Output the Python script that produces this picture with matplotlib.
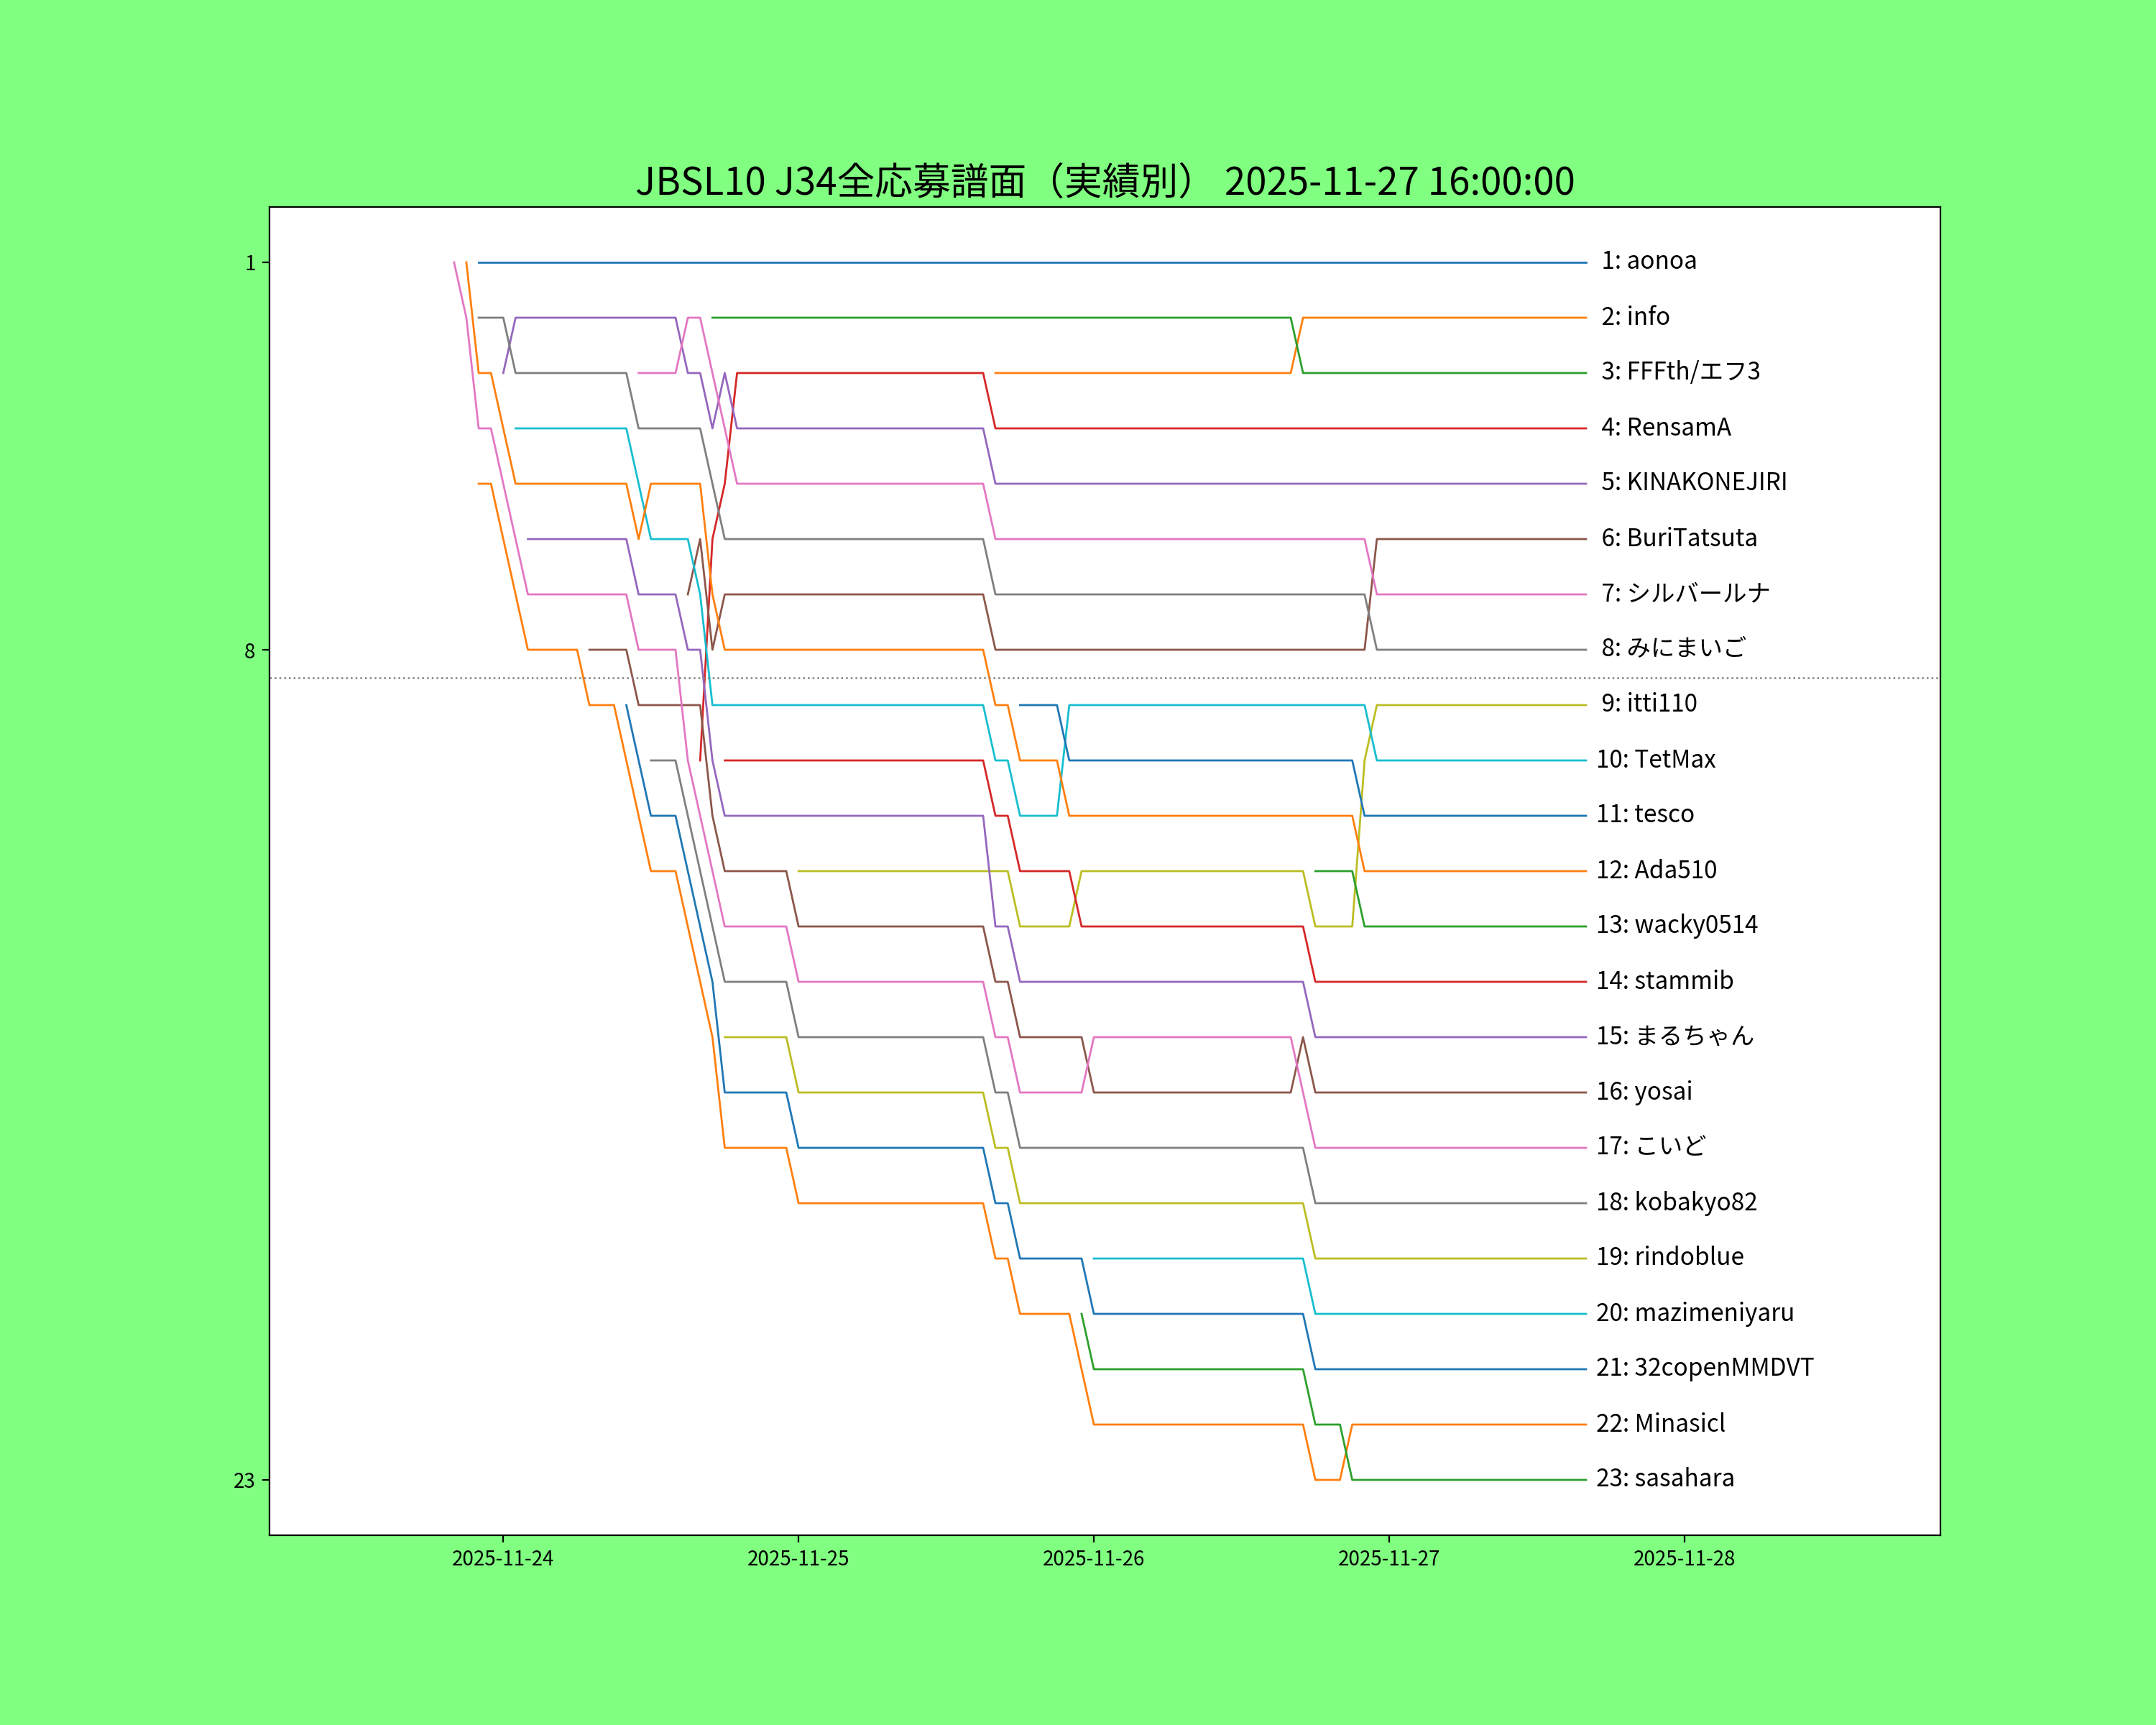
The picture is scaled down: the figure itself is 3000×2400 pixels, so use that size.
import datetime as dt
import matplotlib; matplotlib.use("Agg")
import matplotlib.pyplot as plt
import matplotlib.dates as mdates

plt.rcParams['font.family'] = ['Noto Sans CJK JP', 'DejaVu Sans']

TITLE = "JBSL10 J34全応募譜面（実績別） 2025-11-27 16:00:00"
T0 = dt.datetime(2025, 11, 23, 20, 0)          # hour 0 = first hourly sample
XLIM = (dt.datetime(2025, 11, 23, 5, 0), dt.datetime(2025, 11, 28, 20, 48))
CUTOFF = 8.5
YTICKS = [1, 8, 23]

# final ranking order (colour follows this order)
NAMES = ["aonoa", "info", "FFFth/エフ3", "RensamA", "KINAKONEJIRI", "BuriTatsuta",
         "シルバールナ", "みにまいご", "itti110", "TetMax", "tesco", "Ada510",
         "wacky0514", "stammib", "まるちゃん", "yosai", "こいど", "kobakyo82",
         "rindoblue", "mazimeniyaru", "32copenMMDVT", "Minasicl", "sasahara"]

# (hours after T0, rank) breakpoints per player, same order as NAMES
TRACKS = [
    [(2,1),(92,1)],
    [(44,3),(68,3),(69,2),(92,2)],
    [(21,2),(68,2),(69,3),(92,3)],
    [(20,10),(21,6),(22,5),(23,3),(43,3),(44,4),(92,4)],
    [(4,3),(5,2),(18,2),(19,3),(20,3),(21,4),(22,3),(23,4),(43,4),(44,5),(92,5)],
    [(19,7),(20,6),(21,8),(22,7),(43,7),(44,8),(74,8),(75,6),(92,6)],
    [(15,3),(18,3),(19,2),(20,2),(23,5),(43,5),(44,6),(74,6),(75,7),(92,7)],
    [(2,2),(4,2),(5,3),(14,3),(15,4),(20,4),(22,6),(43,6),(44,7),(74,7),(75,8),(92,8)],
    [(28,12),(45,12),(46,13),(50,13),(51,12),(69,12),(70,13),(73,13),(74,10),(75,9),(92,9)],
    [(5,4),(14,4),(16,6),(19,6),(20,7),(21,9),(43,9),(44,10),(45,10),(46,11),(49,11),(50,9),
     (74,9),(75,10),(92,10)],
    [(46,9),(49,9),(50,10),(73,10),(74,11),(92,11)],
    [(1,1),(2,3),(3,3),(5,5),(14,5),(15,6),(16,5),(20,5),(21,7),(22,8),(43,8),(44,9),(45,9),
     (46,10),(49,10),(50,11),(73,11),(74,12),(92,12)],
    [(70,12),(73,12),(74,13),(92,13)],
    [(22,10),(43,10),(44,11),(45,11),(46,12),(50,12),(51,13),(69,13),(70,14),(92,14)],
    [(6,6),(14,6),(15,7),(18,7),(19,8),(20,8),(21,10),(22,11),(43,11),(44,13),(45,13),(46,14),
     (69,14),(70,15),(92,15)],
    [(11,8),(14,8),(15,9),(20,9),(21,11),(22,12),(27,12),(28,13),(43,13),(44,14),(45,14),(46,15),
     (51,15),(52,16),(68,16),(69,15),(70,16),(92,16)],
    [(0,1),(1,2),(2,4),(3,4),(6,7),(14,7),(15,8),(18,8),(19,10),(22,13),(27,13),(28,14),(43,14),
     (44,15),(45,15),(46,16),(51,16),(52,15),(68,15),(70,17),(92,17)],
    [(16,10),(18,10),(22,14),(27,14),(28,15),(43,15),(44,16),(45,16),(46,17),(69,17),(70,18),(92,18)],
    [(22,15),(27,15),(28,16),(43,16),(44,17),(45,17),(46,18),(69,18),(70,19),(92,19)],
    [(52,19),(69,19),(70,20),(92,20)],
    [(14,9),(16,11),(18,11),(21,14),(22,16),(27,16),(28,17),(43,17),(44,18),(45,18),(46,19),
     (51,19),(52,20),(69,20),(70,21),(92,21)],
    [(2,5),(3,5),(6,8),(10,8),(11,9),(13,9),(16,12),(18,12),(21,15),(22,17),(27,17),(28,18),
     (43,18),(44,19),(45,19),(46,20),(50,20),(52,22),(69,22),(70,23),(72,23),(73,22),(92,22)],
    [(51,20),(52,21),(69,21),(70,22),(72,22),(73,23),(92,23)],
]

fig, ax = plt.subplots(figsize=(15, 12), dpi=200, facecolor="#80ff80")
for i, (name, tr) in enumerate(zip(NAMES, TRACKS)):
    t = [T0 + dt.timedelta(hours=h) for h, _ in tr]
    r = [rk for _, rk in tr]
    ax.plot(t, r, lw=1.0)
    ax.annotate(f"{i+1:2d}: {name}", (t[-1], r[-1]), xytext=(5, 0), textcoords="offset points",
                va="center", ha="left", fontsize=12)

ax.axhline(CUTOFF, color="gray", ls=":", lw=0.9)
ax.set_ylim(24, 0)
ax.set_yticks(YTICKS)
ax.set_xlim(*XLIM)
ax.xaxis.set_major_locator(mdates.DayLocator())
ax.xaxis.set_major_formatter(mdates.DateFormatter("%Y-%m-%d"))
ax.set_title(TITLE, fontsize=19)
fig.savefig("out.png", facecolor=fig.get_facecolor())
